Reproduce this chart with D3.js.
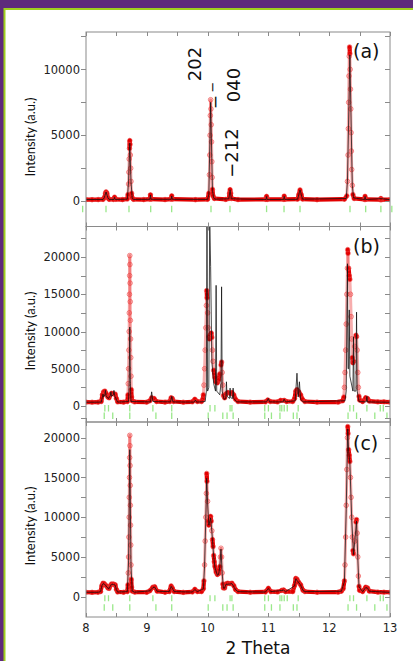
<!DOCTYPE html>
<html>
<head>
<meta charset="utf-8">
<script src="https://cdn.jsdelivr.net/npm/d3@7"></script>
<style>
  html, body { margin: 0; padding: 0; background: #fff; }
  svg { display: block; }
</style>
</head>
<body>
<svg id="chart" width="413" height="661"></svg>
<script>
// ---- Data: 2θ (deg) and intensity (a.u.) ----
const obsA = [[8.00,120],[8.10,110],[8.20,120],[8.28,130],[8.30,250],[8.32,600],[8.33,700],[8.345,600],[8.36,250],[8.38,140],[8.45,130],[8.47,300],[8.49,140],[8.60,120],[8.68,160],[8.69,500],[8.70,1300],[8.705,2200],[8.71,3200],[8.715,4000],[8.72,4600],[8.725,4300],[8.73,3500],[8.735,2500],[8.74,1500],[8.75,600],[8.76,250],[8.78,140],[8.95,120],[9.05,150],[9.06,480],[9.07,150],[9.30,120],[9.40,150],[9.41,400],[9.42,150],[9.80,110],[10.00,140],[10.02,600],[10.03,2000],[10.035,3500],[10.04,5000],[10.045,6500],[10.05,7700],[10.055,7000],[10.06,5800],[10.065,4500],[10.07,3000],[10.075,1800],[10.08,900],[10.09,400],[10.11,200],[10.30,130],[10.35,200],[10.36,600],[10.37,870],[10.38,600],[10.39,200],[10.50,120],[10.96,130],[10.97,360],[10.98,130],[11.25,140],[11.26,380],[11.27,140],[11.48,150],[11.50,500],[11.52,850],[11.54,500],[11.56,160],[11.80,110],[12.25,150],[12.29,400],[12.30,1500],[12.31,3500],[12.315,5500],[12.32,7500],[12.325,9500],[12.33,11000],[12.335,11700],[12.34,11200],[12.345,10000],[12.35,8500],[12.355,7000],[12.36,5200],[12.365,3800],[12.37,2400],[12.38,1200],[12.39,500],[12.41,200],[12.58,130],[12.59,360],[12.60,130],[12.84,110],[12.85,200],[12.86,110],[13.00,110]];
const calcA = [[8.00,120],[8.28,125],[8.30,250],[8.33,690],[8.36,250],[8.38,130],[8.46,125],[8.47,290],[8.48,125],[8.68,150],[8.70,1500],[8.72,4400],[8.74,1500],[8.76,200],[8.78,130],[9.05,140],[9.06,470],[9.07,140],[9.40,140],[9.41,390],[9.42,140],[10.00,130],[10.02,500],[10.05,7500],[10.08,800],[10.10,250],[10.12,150],[10.35,180],[10.37,860],[10.39,180],[10.96,120],[10.97,350],[10.98,120],[11.25,130],[11.26,370],[11.27,130],[11.48,140],[11.52,840],[11.56,150],[12.28,200],[12.30,1500],[12.34,11100],[12.38,1200],[12.40,250],[12.58,120],[12.59,350],[12.60,120],[12.85,190],[13.00,110]];

const obsB = [[8.00,520],[8.10,500],[8.20,520],[8.25,600],[8.27,1500],[8.29,1900],[8.31,2000],[8.33,1700],[8.36,1200],[8.38,1100],[8.40,1500],[8.42,1700],[8.45,1650],[8.48,1600],[8.50,1000],[8.52,550],[8.62,520],[8.68,600],[8.69,1500],[8.695,3000],[8.70,5000],[8.705,7500],[8.71,10000],[8.712,12500],[8.715,15000],[8.718,17500],[8.72,20200],[8.722,19000],[8.725,16500],[8.728,14000],[8.73,11500],[8.733,9000],[8.736,6500],[8.74,4000],[8.745,2200],[8.75,1200],[8.76,700],[8.80,550],[9.00,520],[9.05,700],[9.08,1100],[9.12,1000],[9.16,600],[9.30,520],[9.38,600],[9.40,1100],[9.42,1000],[9.44,600],[9.60,500],[9.75,560],[9.79,900],[9.83,600],[9.90,600],[9.92,900],[9.93,1500],[9.94,2800],[9.95,5000],[9.96,7500],[9.97,10500],[9.98,13500],[9.985,15500],[9.99,14500],[10.00,12500],[10.01,10500],[10.02,9300],[10.03,9000],[10.04,9500],[10.06,9800],[10.07,9200],[10.08,7500],[10.09,6000],[10.10,4800],[10.12,3800],[10.14,3200],[10.16,3100],[10.18,3500],[10.20,4300],[10.22,5500],[10.23,5900],[10.24,4500],[10.25,2800],[10.26,1400],[10.28,1100],[10.30,1600],[10.33,1800],[10.37,1700],[10.40,1800],[10.43,1500],[10.46,900],[10.50,600],[10.70,520],[10.95,550],[10.99,800],[11.03,600],[11.15,550],[11.20,750],[11.26,750],[11.30,600],[11.40,600],[11.43,1000],[11.45,2000],[11.47,2200],[11.50,1900],[11.53,1500],[11.56,900],[11.60,600],[11.80,520],[12.15,520],[12.22,700],[12.24,1200],[12.25,2500],[12.26,4500],[12.27,7500],[12.28,11000],[12.29,15000],[12.30,18500],[12.305,21000],[12.31,20500],[12.32,18500],[12.33,17500],[12.34,17000],[12.35,15000],[12.36,12000],[12.37,9000],[12.38,6500],[12.39,5800],[12.40,6000],[12.42,8000],[12.44,9500],[12.45,9300],[12.46,7500],[12.47,4500],[12.48,2500],[12.49,1300],[12.50,800],[12.55,600],[12.60,1100],[12.63,1000],[12.66,650],[12.80,550],[12.90,550],[13.00,520]];
const calcB = [[8.00,500],[8.25,520],[8.27,1200],[8.28,1600],[8.29,1200],[8.31,1500],[8.32,2100],[8.33,1300],[8.37,1000],[8.40,1400],[8.41,1900],[8.42,1300],[8.45,1500],[8.46,2100],[8.47,1400],[8.52,520],[8.70,600],[8.71,3000],[8.72,10600],[8.73,3000],[8.74,600],[9.06,550],[9.08,1900],[9.10,600],[9.39,550],[9.41,1300],[9.43,550],[9.78,520],[9.80,800],[9.82,520],[9.96,600],[9.98,2000],[9.99,25000],[10.00,2000],[10.02,2500],[10.035,25000],[10.05,18700],[10.07,6000],[10.10,3000],[10.13,2000],[10.14,16200],[10.15,2000],[10.20,1500],[10.22,3000],[10.23,16000],[10.24,2000],[10.27,900],[10.30,1000],[10.31,3250],[10.32,1300],[10.36,1000],[10.37,2400],[10.38,1100],[10.41,1000],[10.42,2400],[10.43,1000],[10.48,550],[10.97,550],[11.00,1000],[11.02,550],[11.24,550],[11.26,900],[11.28,550],[11.44,700],[11.47,4400],[11.49,1200],[11.51,3250],[11.53,900],[11.57,550],[12.26,700],[12.28,2000],[12.30,19100],[12.31,5000],[12.32,5000],[12.33,12900],[12.34,4000],[12.39,2000],[12.40,9300],[12.41,2000],[12.44,2000],[12.45,12600],[12.46,2000],[12.49,600],[12.61,550],[12.62,1300],[12.63,550],[13.00,500]];

const obsC = [[8.00,560],[8.10,550],[8.20,560],[8.24,650],[8.26,1400],[8.28,1700],[8.30,1650],[8.33,1400],[8.36,1100],[8.38,1050],[8.40,1400],[8.42,1600],[8.45,1600],[8.48,1500],[8.50,900],[8.52,600],[8.62,560],[8.68,650],[8.69,1500],[8.695,3000],[8.70,5000],[8.705,7500],[8.71,10000],[8.712,12500],[8.715,15000],[8.718,17500],[8.72,20300],[8.722,19000],[8.725,16500],[8.728,14000],[8.73,11500],[8.733,9000],[8.736,6500],[8.74,4000],[8.745,2200],[8.75,1200],[8.76,700],[8.80,580],[9.00,560],[9.05,750],[9.10,1200],[9.13,1250],[9.17,700],[9.30,560],[9.37,650],[9.40,1350],[9.42,1100],[9.45,650],[9.60,550],[9.75,600],[9.79,930],[9.83,650],[9.90,650],[9.93,1000],[9.94,2000],[9.95,4000],[9.96,7000],[9.97,10000],[9.98,13000],[9.985,15500],[9.99,14500],[10.00,12000],[10.01,9500],[10.02,9000],[10.04,9800],[10.05,10100],[10.06,9500],[10.07,8300],[10.08,7200],[10.09,6300],[10.10,5200],[10.11,4400],[10.12,3800],[10.14,3100],[10.16,2800],[10.18,2900],[10.20,3800],[10.21,5000],[10.22,6100],[10.23,5000],[10.24,3000],[10.25,1600],[10.26,1100],[10.28,1100],[10.30,1600],[10.33,1700],[10.37,1650],[10.40,1700],[10.43,1400],[10.46,900],[10.50,650],[10.70,560],[10.95,600],[11.00,1060],[11.04,650],[11.15,600],[11.22,800],[11.25,850],[11.28,650],[11.40,650],[11.43,1400],[11.45,2300],[11.47,2200],[11.50,1800],[11.53,1500],[11.57,800],[11.60,650],[11.80,560],[12.15,580],[12.20,700],[12.23,1000],[12.25,2000],[12.26,4000],[12.27,7500],[12.28,11500],[12.29,16000],[12.30,20000],[12.305,21400],[12.31,20500],[12.32,18500],[12.33,17800],[12.34,17000],[12.35,15000],[12.36,12500],[12.37,10000],[12.38,7500],[12.39,5800],[12.40,5400],[12.42,7000],[12.44,9400],[12.45,9700],[12.46,8000],[12.47,5000],[12.48,2600],[12.49,1300],[12.50,800],[12.55,650],[12.60,1200],[12.63,1100],[12.66,700],[12.80,580],[12.90,570],[13.00,560]];
const calcC = [[8.00,560],[8.20,560],[8.24,640],[8.26,1350],[8.28,1650],[8.30,1600],[8.33,1350],[8.36,1080],[8.38,1030],[8.40,1350],[8.42,1550],[8.45,1550],[8.48,1450],[8.50,880],[8.52,590],[8.68,640],[8.70,4500],[8.72,18500],[8.74,3800],[8.76,700],[8.80,570],[9.05,740],[9.10,1150],[9.13,1200],[9.17,690],[9.37,640],[9.40,1300],[9.42,1080],[9.45,640],[9.75,590],[9.79,900],[9.83,640],[9.93,980],[9.95,3800],[9.97,9800],[9.985,14900],[10.00,11800],[10.02,9000],[10.05,9900],[10.07,8200],[10.10,5100],[10.12,3700],[10.16,2700],[10.18,2800],[10.20,3700],[10.22,6000],[10.24,2900],[10.26,1080],[10.28,1080],[10.30,1550],[10.37,1600],[10.40,1650],[10.46,880],[10.50,640],[10.95,590],[11.00,1030],[11.04,640],[11.22,780],[11.25,830],[11.28,640],[11.43,1350],[11.45,2250],[11.50,1750],[11.53,1450],[11.57,780],[11.60,640],[12.20,690],[12.25,1900],[12.28,11000],[12.305,21100],[12.32,18300],[12.34,16800],[12.37,9800],[12.40,5300],[12.42,6900],[12.45,9500],[12.47,4900],[12.49,1250],[12.55,640],[12.60,1150],[12.63,1080],[12.66,690],[13.00,550]];

// Bragg reflection positions (2θ)
const reflA = [7.945,8.329,8.707,9.064,9.409,10.056,10.368,10.97,11.257,11.52,12.342,12.60,12.85,13.03];
const reflBC1 = [8.31,8.37,8.72,9.10,9.41,10.04,10.12,10.37,10.40,10.94,11.00,11.19,11.22,11.26,11.31,11.49,12.34,12.40,12.62,12.84,12.89];
const reflBC2 = [8.30,8.44,8.72,9.15,9.41,10.01,10.25,10.32,10.42,10.94,11.05,11.19,11.41,11.47,12.31,12.45,12.75,12.95];

// Axis ticks and labels
const xTickValues = [8,8.5,9,9.5,10,10.5,11,11.5,12,12.5,13];
const xTickLabels = [8,9,10,11,12,13];
const yTicksA = [0,2500,5000,7500,10000,12500];
const yLabelsA = [0,5000,10000];
const yTicksBC = [0,2500,5000,7500,10000,12500,15000,17500,20000,22500];
const yLabelsBC = [0,5000,10000,15000,20000];
const panelTags = ["(a)","(b)","(c)"];
const hklLabels = ["202","\u2212","\u2212","040","\u2212212"];
const xTitle = "2 Theta";
const yTitle = "Intensity (a.u.)";

// ---- Drawing ----
const svg = d3.select("#chart");
const W = 413, H = 661;

// page frame
svg.append("rect").attr("x",0).attr("y",0).attr("width",W).attr("height",H).attr("fill","#5e2a7b");
svg.append("rect").attr("x",4.5).attr("y",9).attr("width",W+10).attr("height",H+10)
  .attr("fill","#ffffff").attr("stroke","#9fcf1f").attr("stroke-width",2);

const L = 86, R = 390;
const x = d3.scaleLinear().domain([8,13]).range([L,R]);

const panels = [
  {top:32,  bottom:226.5, dom:[-1925,12840], obs:obsA, calc:calcA, rows:[reflA], rowOff:[[4.5,11]], ticks:yTicksA, labels:yLabelsA, tag:panelTags[0], tagY:51.5, titleY:137},
  {top:226.5, bottom:422, dom:[-2150,24100], obs:obsB, calc:calcB, rows:[reflBC1,reflBC2], rowOff:[[-1,5.5],[6.5,13]], ticks:yTicksBC, labels:yLabelsBC, tag:panelTags[1], tagY:246.5, titleY:331},
  {top:422, bottom:617, dom:[-2550,21975], obs:obsC, calc:calcC, rows:[reflBC1,reflBC2], rowOff:[[-1.5,4.5],[7.5,14]], ticks:yTicksBC, labels:yLabelsBC, tag:panelTags[2], tagY:443, titleY:526}
];

const frameColor = "#8a8a8a";
const textColor = "#222";
const tickFont = "'DejaVu Sans', sans-serif";

panels.forEach((p, i) => {
  const y = d3.scaleLinear().domain(p.dom).range([p.bottom, p.top]);
  const g = svg.append("g");
  const clipId = "clip" + i;
  svg.append("clipPath").attr("id", clipId).append("rect")
    .attr("x", L).attr("y", p.top).attr("width", R-L).attr("height", p.bottom-p.top);

  // reflection markers
  p.rows.forEach((row, k) => {
    const y0 = y(0);
    g.append("g").selectAll("line").data(row).join("line")
      .attr("x1", d => x(d)).attr("x2", d => x(d))
      .attr("y1", y0 + p.rowOff[k][0]).attr("y2", y0 + p.rowOff[k][1])
      .attr("stroke", "#9ae88a").attr("stroke-width", 1.3);
  });

  const plot = g.append("g").attr("clip-path", `url(#${clipId})`);
  const line = d3.line().x(d => x(d[0])).y(d => y(d[1]));

  // observed profile: slowly varying stretches are dense (solid red band),
  // steep peak flanks show as a column of overlapping open circles
  const segs = d3.pairs(p.obs).map(([a, b]) => ({a, b, steep: Math.abs(y(b[1]) - y(a[1])) > 8}));
  plot.append("g").selectAll("line").data(segs.filter(s => s.steep)).join("line")
    .attr("x1", s => x(s.a[0])).attr("y1", s => y(s.a[1]))
    .attr("x2", s => x(s.b[0])).attr("y2", s => y(s.b[1]))
    .attr("stroke","rgba(235,60,60,0.42)").attr("stroke-width",3).attr("stroke-linecap","round");
  plot.append("g").selectAll("line").data(segs.filter(s => !s.steep)).join("line")
    .attr("x1", s => x(s.a[0])).attr("y1", s => y(s.a[1]))
    .attr("x2", s => x(s.b[0])).attr("y2", s => y(s.b[1]))
    .attr("stroke","#e30000").attr("stroke-width",4.2).attr("stroke-linecap","round");
  plot.append("g").selectAll("circle").data(p.obs).join("circle")
    .attr("cx", d => x(d[0])).attr("cy", d => y(d[1])).attr("r", 2.3)
    .attr("fill","none").attr("stroke","rgba(235,50,50,0.6)").attr("stroke-width",1);

  // calculated profile
  plot.append("path").datum(p.calc).attr("d", line)
    .attr("fill","none").attr("stroke","#111").attr("stroke-width",0.9).attr("stroke-opacity",0.85);

  // frame
  g.append("rect").attr("x",L).attr("y",p.top).attr("width",R-L).attr("height",p.bottom-p.top)
    .attr("fill","none").attr("stroke",frameColor).attr("stroke-width",1);

  // y ticks: outward on the left, inward on the right
  const yt = g.append("g");
  p.ticks.forEach(v => {
    const yy = Math.round(y(v)) + 0.5;
    yt.append("line").attr("x1",L-5).attr("x2",L).attr("y1",yy).attr("y2",yy).attr("stroke",frameColor);
    yt.append("line").attr("x1",R-5).attr("x2",R).attr("y1",yy).attr("y2",yy).attr("stroke",frameColor);
  });
  yt.selectAll("text").data(p.labels).join("text")
    .attr("x", L-6).attr("y", d => y(d)).attr("dy","0.36em")
    .attr("text-anchor","end").attr("font-family",tickFont).attr("font-size",11.5)
    .attr("fill",textColor).text(d => d);

  // x ticks: inward at top and bottom
  const xt = g.append("g");
  xTickValues.forEach(v => {
    const xx = Math.round(x(v)) + 0.5;
    xt.append("line").attr("x1",xx).attr("x2",xx).attr("y1",p.top).attr("y2",p.top+4).attr("stroke",frameColor);
    xt.append("line").attr("x1",xx).attr("x2",xx).attr("y1",p.bottom-4).attr("y2",p.bottom).attr("stroke",frameColor);
  });

  // panel tag
  g.append("text").attr("x", 353).attr("y", p.tagY).attr("dy","0.35em")
    .attr("font-family",tickFont).attr("font-size",19).attr("fill","#111").text(p.tag);

  // y title
  g.append("text").attr("transform",`translate(30,${p.titleY}) rotate(-90)`)
    .attr("text-anchor","middle").attr("dy","0.35em")
    .attr("font-family","Lato, sans-serif").attr("font-size",13).attr("fill","#111").text(yTitle);
});

// x tick labels on the bottom panel
svg.append("g").selectAll("text").data(xTickLabels).join("text")
  .attr("x", d => x(d)).attr("y", 628).attr("dy","0.35em").attr("text-anchor","middle")
  .attr("font-family",tickFont).attr("font-size",11.5).attr("fill",textColor).text(d => d);

// x title
svg.append("text").attr("x", 258).attr("y", 648).attr("dy","0.35em").attr("text-anchor","middle")
  .attr("font-family",tickFont).attr("font-size",17).attr("fill","#111").text(xTitle);

// hkl annotations in panel (a)
const hklPos = [[195,64,18],[212,87,13],[215.5,102,17],[233.5,85,18],[232,153,18]];
hklLabels.forEach((t, i) => {
  const [px, py, fs] = hklPos[i];
  svg.append("text").attr("transform",`translate(${px},${py}) rotate(-90)`)
    .attr("text-anchor","middle").attr("dy","0.35em")
    .attr("font-family",tickFont).attr("font-size",fs).attr("fill","#111").text(t);
});
</script>
</body>
</html>
